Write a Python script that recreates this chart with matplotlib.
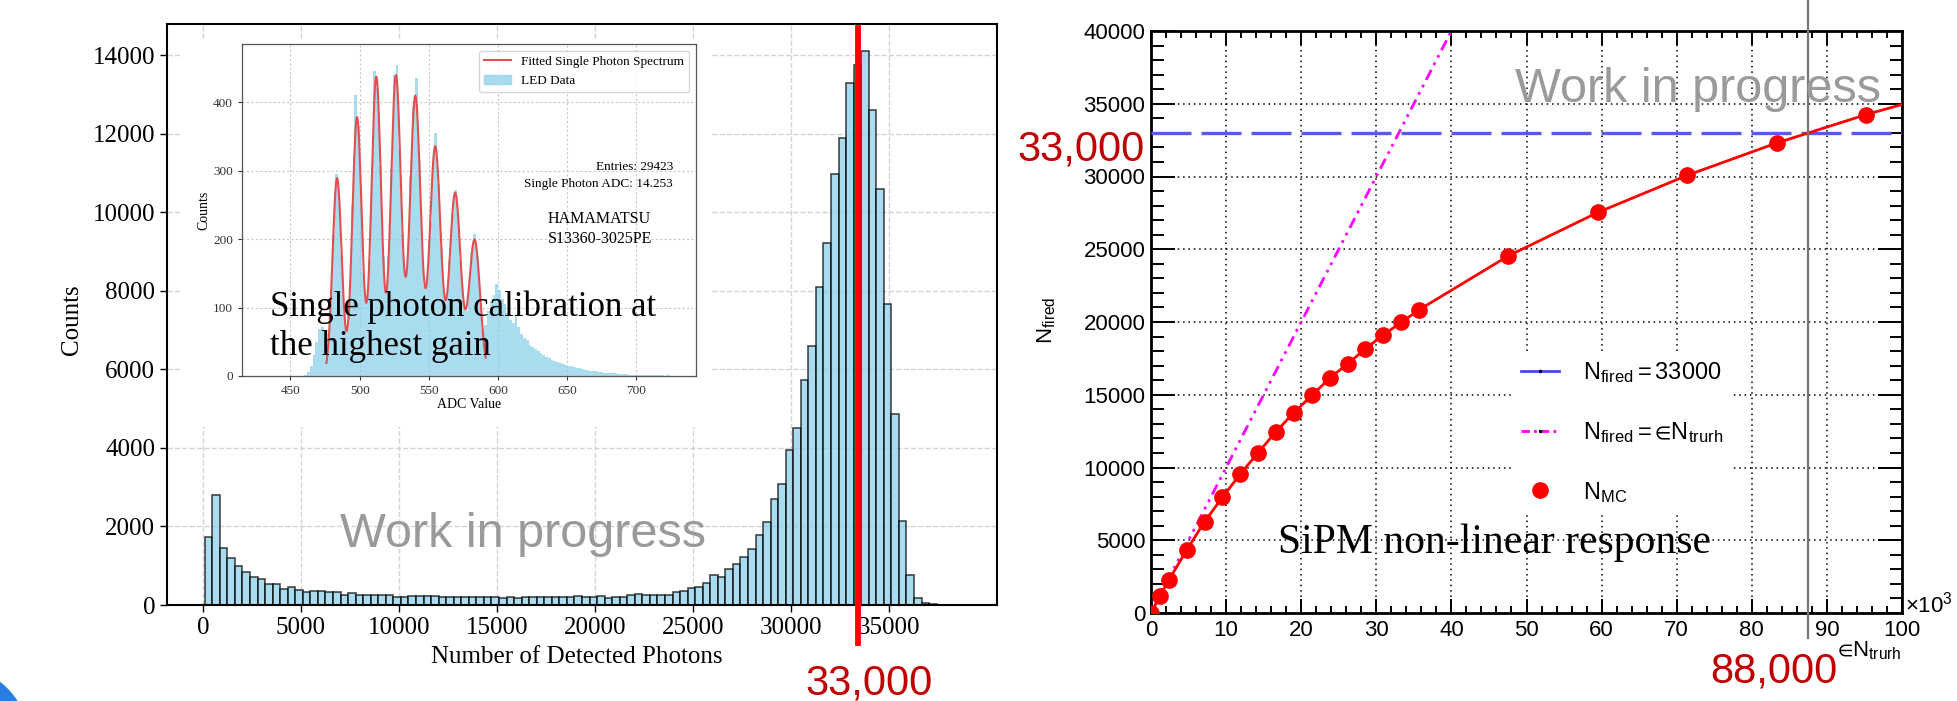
"""
"""

import numpy as np
import matplotlib
matplotlib.use('Agg')
import matplotlib.pyplot as plt
from matplotlib.lines import Line2D
from matplotlib.patches import Patch, Rectangle, Circle

plt.rcParams['font.family'] = ['Liberation Sans', 'DejaVu Sans']
plt.rcParams['mathtext.fontset'] = 'custom'
plt.rcParams['mathtext.rm'] = 'Liberation Sans'
plt.rcParams['mathtext.it'] = 'Liberation Sans:italic'
plt.rcParams['mathtext.default'] = 'rm'
plt.rcParams['mathtext.fallback'] = 'stixsans'

SERIF = 'Liberation Serif'

# --------------------------------------
# left: number of detected photons
# --------------------------------------
photon_bin_start = 90
photon_bin_width = 385
photon_counts = [
    1730, 2790, 1455, 1200, 1000, 845, 705, 655, 535, 535,
    410, 470, 385, 340, 360, 350, 340, 325, 265, 315,
    255, 255, 265, 255, 245, 213, 215, 222, 230, 230,
    222, 213, 205, 205, 205, 195, 195, 195, 195, 187,
    195, 187, 205, 205, 195, 213, 195, 195, 213, 230,
    195, 195, 230, 180, 195, 213, 265, 290, 265, 255,
    265, 265, 330, 357, 435, 460, 570, 755, 715, 925,
    1035, 1235, 1430, 1790, 2120, 2690, 3070, 3950, 4510, 5740,
    6600, 8090, 9230, 10980, 11890, 13300, 13750, 14100, 12600, 10590,
    7660, 4860, 2140, 755, 170, 40, 25, 0, 0, 0,
]
photon_cut = 33400

# --------------------------------------
# inset: LED data, single photon spectrum
# --------------------------------------
adc_bin_start = 460
adc_bin_width = 2
led_counts = [
    2, 6, 15, 30, 50, 68, 72, 60, 45, 105,
    207, 295, 267, 177, 90, 68, 128, 250, 410, 365,
    266, 150, 107, 169, 305, 445, 420, 307, 175, 122,
    175, 302, 440, 455, 332, 207, 145, 184, 292, 395,
    435, 316, 200, 133, 148, 226, 310, 355, 280, 188,
    121, 117, 169, 237, 272, 237, 169, 111, 95, 132,
    179, 208, 176, 121, 68, 75, 95, 110, 118, 135,
    125, 112, 105, 92, 82, 78, 88, 72, 62, 55,
    52, 46, 42, 40, 36, 33, 30, 28, 26, 24,
    22, 21, 19, 18, 16, 15, 14, 13, 12, 11,
    10, 9, 9, 8, 7, 7, 6, 6, 5, 5,
    4, 4, 4, 3, 3, 3, 3, 2, 2, 2,
    2, 2, 2, 1, 1, 1, 1, 1, 1, 1,
    0, 1, 0, 0, 0,
]
## fitted peaks (multi-gaussian fit)
peak_adc = [483.7, 498.1, 512.0, 526.2, 540.2, 554.6, 569.0, 583.0]
peak_counts = [289, 378, 437, 439, 409, 335, 267, 199]
peak_sigma = [3.3, 3.4, 3.5, 3.65, 3.8, 3.9, 3.95, 4.0]
fit_range = [476, 591]

# --------------------------------------
# right: SiPM response
# --------------------------------------
n_truth_k = [0, 1.19, 2.38, 4.76, 7.14, 9.52, 11.90, 14.28, 16.66, 19.04,
             21.42, 23.80, 26.18, 28.56, 30.94, 33.32, 35.70, 47.60, 59.50,
             71.40, 83.30, 95.20]
n_fired = [0, 1170, 2270, 4330, 6280, 7960, 9560, 11030, 12470, 13780,
           14950, 16140, 17130, 18150, 19120, 19970, 20840, 24550, 27530,
           30080, 32300, 34250]
curve_end_truth_k = 100.0
curve_end_fired = 34950
linear_truth_k = [0, 40]
linear_fired = [0, 40000]
fired_level = 33000
truth_at_level_k = 87.5


W, H = 1958, 701


def fx(x):
    return x / W


def fy(y):
    return 1 - y / H


fig = plt.figure(figsize=(W / 100, H / 100), dpi=100)

## slide corner decoration
fig.add_artist(Circle((-0.5, -0.44), 0.8, transform=fig.dpi_scale_trans,
                      color='#2a7de1', zorder=0.2))

# --------------------------------------
# left panel
# --------------------------------------
ax = fig.add_axes([fx(167), fy(605), (997 - 167) / W, (605 - 24) / H])
edges = photon_bin_start + photon_bin_width * np.arange(len(photon_counts) + 1)
ax.hist(edges[:-1], bins=edges, weights=photon_counts, color='skyblue',
        alpha=0.7, edgecolor='black', linewidth=1.2)
ax.set_xlim(-1835, 40515)
ax.set_ylim(0, 14800)
ax.set_xticks(range(0, 35001, 5000))
ax.set_yticks(range(0, 14001, 2000))
ax.grid(True, linestyle='--', color='#d4d4d4', linewidth=1.0)
ax.set_axisbelow(True)
ax.tick_params(labelsize=18, labelfontfamily=SERIF, length=5, width=1)
for s in ax.spines.values():
    s.set_linewidth(1.5)
ax.set_xlabel('Number of Detected Photons', fontsize=18, fontfamily=SERIF)
ax.xaxis.set_label_coords((577 - 167) / 830, (605 - 657) / 581)
ax.xaxis.label.set_va('center')
ax.set_ylabel('Counts', fontsize=18, fontfamily=SERIF)
ax.yaxis.set_label_coords((72 - 167) / 830, (605 - 320) / 581)
ax.yaxis.label.set_va('center')

## cut line, runs past the axis
ax.axvline(photon_cut, ymin=(605 - 643) / 581, ymax=(605 - 28) / 581,
           color='red', lw=4.2, clip_on=False, zorder=5)

## white background of pasted inset
fig.add_artist(Rectangle((fx(182), fy(427)), (711 - 182) / W, (427 - 40) / H,
                         transform=fig.transFigure, facecolor='white',
                         edgecolor='none', zorder=0.5))

# --------------------------------------
# inset
# --------------------------------------
ins = fig.add_axes([fx(242), fy(376), (696 - 242) / W, (376 - 44) / H], zorder=1)
led_edges = adc_bin_start + adc_bin_width * np.arange(len(led_counts) + 1)
ins.hist(led_edges[:-1], bins=led_edges, weights=led_counts, color='skyblue',
         alpha=0.7)
fit_x = np.linspace(fit_range[0], fit_range[1], 800)
fit_y = np.zeros_like(fit_x)
for mu, amp, sig in zip(peak_adc, peak_counts, peak_sigma):
    fit_y += amp * np.exp(-(fit_x - mu) ** 2 / (2 * sig ** 2))
fit_line, = ins.plot(fit_x, fit_y, color='#e05050', lw=1.5)
ins.set_xlim(415, 743)
ins.set_ylim(0, 485)
ins.set_xticks(range(450, 701, 50))
ins.set_yticks(range(0, 401, 100))
ins.grid(True, linestyle=(0, (2, 2)), color='#c8c8c8', linewidth=0.8)
ins.set_axisbelow(True)
ins.tick_params(labelsize=9.5, labelfontfamily=SERIF, length=3, width=0.8,
                colors='#333333')
for s in ins.spines.values():
    s.set_linewidth(0.9)
    s.set_color('#555555')
ins.set_xlabel('ADC Value', fontsize=10, fontfamily=SERIF)
ins.xaxis.set_label_coords(0.5, (376 - 404) / 332)
ins.xaxis.label.set_va('center')
ins.set_ylabel('Counts', fontsize=10, fontfamily=SERIF)
ins.yaxis.set_label_coords((204 - 242) / 454, 0.5)
ins.yaxis.label.set_va('center')
ins.legend([fit_line, Patch(color='skyblue', alpha=0.7)],
           ['Fitted Single Photon Spectrum', 'LED Data'],
           loc='upper right', prop={'family': SERIF, 'size': 9.5})

fig.text(fx(673), fy(170), 'Entries: 29423', ha='right', va='baseline',
         fontsize=9.5, fontfamily=SERIF, zorder=3)
fig.text(fx(673), fy(187), 'Single Photon ADC: 14.253', ha='right',
         va='baseline', fontsize=9.5, fontfamily=SERIF, zorder=3)
fig.text(fx(548), fy(223), 'HAMAMATSU', ha='left', va='baseline',
         fontsize=11.5, fontfamily=SERIF, zorder=3)
fig.text(fx(548), fy(243), 'S13360-3025PE', ha='left', va='baseline',
         fontsize=11.5, fontfamily=SERIF, zorder=3)
fig.text(fx(270), fy(316), 'Single photon calibration at', ha='left',
         va='baseline', fontsize=25, fontfamily=SERIF, zorder=3)
fig.text(fx(270), fy(355), 'the highest gain', ha='left', va='baseline',
         fontsize=25, fontfamily=SERIF, zorder=3)

fig.text(fx(523), fy(547), 'Work in progress', ha='center', va='baseline',
         fontsize=35, color='#9a9a9a', zorder=3)
fig.text(fx(869), fy(683), '33,000', ha='center', va='center', fontsize=30,
         color='#c00000')

# --------------------------------------
# right panel
# --------------------------------------
axr = fig.add_axes([fx(1151), fy(613), (1902 - 1151) / W, (613 - 31) / H])
axr.set_xlim(0, 100)
axr.set_ylim(0, 40000)
axr.set_xticks(range(0, 101, 10))
axr.set_xticks(range(0, 101, 2), minor=True)
axr.set_yticks(range(0, 40001, 5000))
axr.set_yticks(range(0, 40001, 1000), minor=True)
axr.grid(True, which='major', linestyle=(0, (1, 2.5)), color='black',
         linewidth=1.1)
axr.set_axisbelow(True)
axr.tick_params(axis='both', which='both', direction='in', top=True,
                right=True, width=1.4, labelsize=16)
axr.tick_params(axis='x', which='major', length=10, pad=5)
axr.tick_params(axis='x', which='minor', length=5)
axr.tick_params(axis='y', which='major', length=17, pad=4)
axr.tick_params(axis='y', which='minor', length=9)
for s in axr.spines.values():
    s.set_linewidth(2)

axr.plot(linear_truth_k, linear_fired, color='magenta', lw=2,
         linestyle=(0, (4, 2, 1, 2, 1, 2)), zorder=3)
axr.axhline(fired_level, color='#5a5ae6', lw=2.4, linestyle=(0, (12, 3)),
            zorder=3)
axr.plot(n_truth_k + [curve_end_truth_k], n_fired + [curve_end_fired],
         color='red', lw=2, zorder=4)
axr.plot(n_truth_k, n_fired, 'o', color='red', ms=11, zorder=5)
axr.axvline(truth_at_level_k, ymin=(613 - 638) / 582, ymax=613 / 582,
            color='#777777', lw=1.6, clip_on=False, zorder=6)

axr.set_ylabel(r'$N_{fired}$', fontsize=16)
axr.yaxis.set_label_coords((1047 - 1151) / 751, (613 - 320) / 582)
axr.yaxis.label.set_va('center')
axr.set_xlabel(r'$∈N_{trurh}$', fontsize=16)
axr.xaxis.set_label_coords(1.0, (613 - 651) / 582)
axr.xaxis.label.set_ha('right')
axr.xaxis.label.set_va('center')

handles = [
    Line2D([], [], color='#4a4ae0', lw=2, marker='.', ms=3,
           markerfacecolor='black', markeredgecolor='black'),
    Line2D([], [], color='magenta', lw=2, linestyle=(0, (3, 1.5, 1, 1.5)),
           marker='.', ms=3, markerfacecolor='black', markeredgecolor='black'),
    Line2D([], [], color='red', lw=0, marker='o', ms=11),
]
labels = [r'$N_{fired} = 33000$', r'$N_{fired} = ∈N_{trurh}$', r'$N_{MC}$']
leg = axr.legend(handles, labels, loc='upper left',
                 bbox_to_anchor=(fx(1512), fy(351)),
                 bbox_transform=fig.transFigure, fontsize=17,
                 handlelength=1.6, handletextpad=1.0, labelspacing=1.47,
                 borderpad=0.4, borderaxespad=0, fancybox=False,
                 framealpha=1, edgecolor='none', numpoints=1)

fig.text(fx(1905), fy(613), r'$\times10^{3}$', ha='left', va='baseline',
         fontsize=16)
fig.text(fx(1278), fy(553), 'SiPM non-linear response', ha='left',
         va='baseline', fontsize=30, fontfamily=SERIF, zorder=7)
fig.text(fx(1698), fy(102), 'Work in progress', ha='center', va='baseline',
         fontsize=35, color='#9a9a9a', zorder=7)
fig.text(fx(1081), fy(150), '33,000', ha='center', va='center', fontsize=30,
         color='#c00000')
fig.text(fx(1774), fy(672), '88,000', ha='center', va='center', fontsize=30,
         color='#c00000')

fig.savefig('out.png', dpi=100)
